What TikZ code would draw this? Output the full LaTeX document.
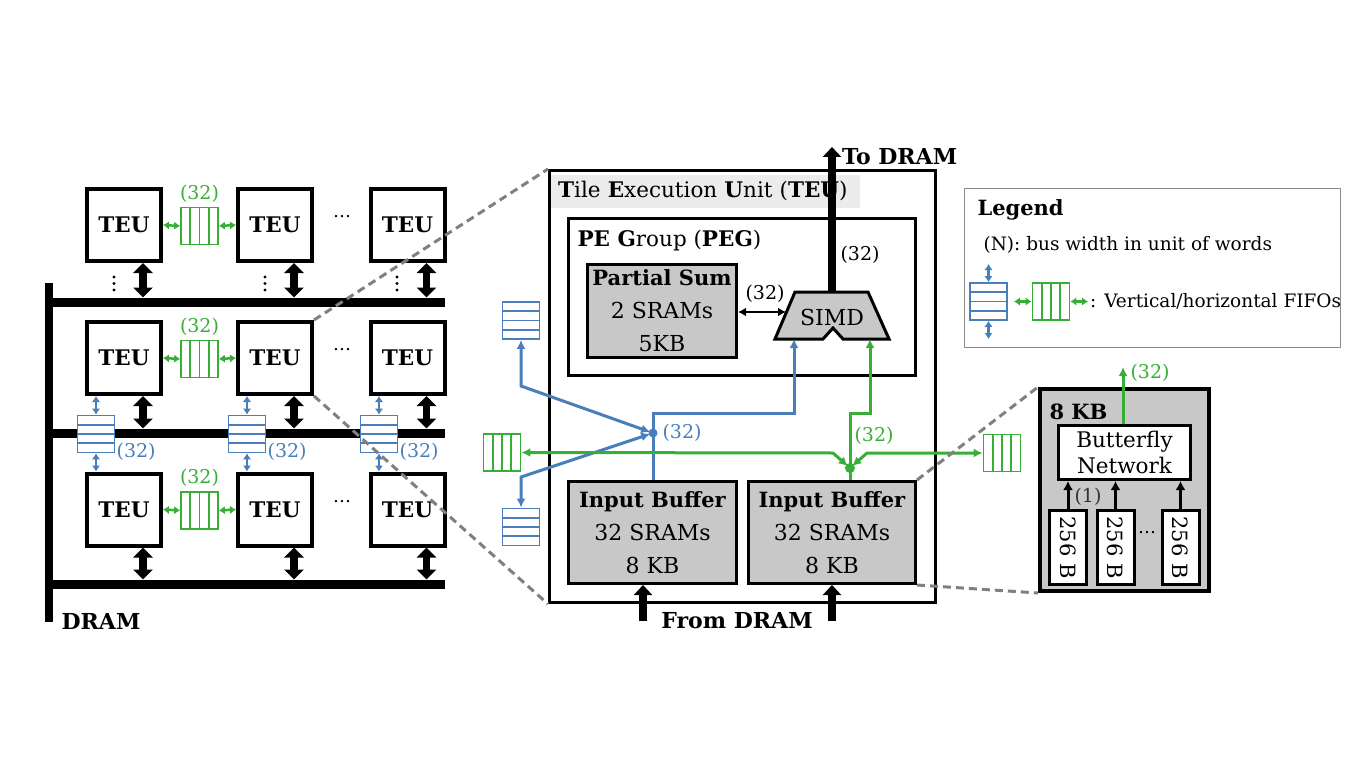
\documentclass[tikz,border=0pt]{standalone}
\usepackage{fontspec}
\setmainfont{DejaVu Serif}
\usetikzlibrary{arrows.meta,calc}
\definecolor{fblue}{RGB}{74,126,187}
\definecolor{fgreen}{RGB}{55,175,55}
\definecolor{boxgray}{RGB}{200,200,200}
\definecolor{dashgray}{RGB}{128,128,128}
\definecolor{titlebg}{RGB}{236,236,236}
\newcommand{\myfs}[1]{\fontsize{#1}{#1}\selectfont}
\begin{document}
\begin{tikzpicture}[x=1pt,y=-1pt,
  teu/.style={draw,line width=4pt,minimum width=74pt,minimum height=72pt,inner sep=0pt,font=\myfs{21.5}\bfseries},
  hfifo/.style={draw=fgreen,fill=white,line width=1.8pt,minimum width=37pt,minimum height=37pt,inner sep=0pt,
    path picture={\foreach \i in {1,2,3}{\draw[fgreen,line width=1.8pt]
      ($(path picture bounding box.north west)!\i/4!(path picture bounding box.north east)$) --
      ($(path picture bounding box.south west)!\i/4!(path picture bounding box.south east)$);}}},
  vfifo/.style={draw=fblue,fill=white,line width=1.8pt,minimum width=37pt,minimum height=37pt,inner sep=0pt,
    path picture={\foreach \i in {1,2,3}{\draw[fblue,line width=1.8pt]
      ($(path picture bounding box.north west)!\i/4!(path picture bounding box.south west)$) --
      ($(path picture bounding box.north east)!\i/4!(path picture bounding box.south east)$);}}},
  gsmall/.style={fgreen,line width=2.5pt,{Latex[length=6pt,width=8.5pt]}-{Latex[length=6pt,width=8.5pt]}},
  bsmall/.style={fblue,line width=2.5pt,{Latex[length=6pt,width=8.5pt]}-{Latex[length=6pt,width=8.5pt]}},
  bigarr/.style={line width=7.5pt,{Triangle[length=10pt,width=19pt]}-{Triangle[length=10pt,width=19pt]}},
  bigup/.style={line width=8pt,-{Triangle[length=10pt,width=18pt]}},
  bus/.style={line width=9pt},
  dashline/.style={dashgray,line width=3pt,dash pattern=on 8pt off 5pt},
  graybox/.style={draw,fill=boxgray,line width=3pt,inner sep=0pt,align=center},
  bline/.style={fblue,line width=3pt},
  gline/.style={fgreen,line width=3pt},
  tip/.style={>={Latex[length=9pt,width=9pt]}},
  glabel/.style={fgreen,font=\myfs{19}},
  blabel/.style={fblue,font=\myfs{19}},
  klabel/.style={font=\myfs{19}},
  txt/.style={font=\myfs{18.5}}
]
\useasboundingbox (0,0) rectangle (1370,770);

% ---------------- left grid ----------------
\foreach \r/\ry in {1/225,2/358,3/509.5}{
  \foreach \c/\cx in {1/124,2/275,3/407.5}{
    \node[teu] (t\r\c) at (\cx,\ry) {TEU};
  }
  \node[hfifo] (h\r) at (199.5,\ry+1) {};
  \draw[gsmall] (t\r1.east) -- (h\r.west);
  \draw[gsmall] (h\r.east) -- (t\r2.west);
  \node[glabel] at ($(h\r.north)+(0,-13)$) {(32)};
  \node[font=\myfs{18}] (dd\r) at (342,\ry-8) {…};
}

% buses
\coordinate (bv1) at (49,283);
\coordinate (bv2) at (49,622);
\draw[line width=8pt] (bv1) -- (bv2);
\foreach \k/\by in {1/302,2/433,3/584}{
  \coordinate (b\k w) at (45,\by);
  \coordinate (b\k e) at (445,\by);
  \draw[bus] (b\k w) -- (b\k e);
}
% big arrows to buses
\foreach \c in {1,2,3}{
  \draw[bigarr,shorten >=4.5pt] ([xshift=19pt]t1\c.south) -- ([xshift=19pt]t1\c.south |- b1w);
  \draw[bigarr,shorten >=4.5pt] ([xshift=19pt]t2\c.south) -- ([xshift=19pt]t2\c.south |- b2w);
  \draw[bigarr,shorten >=4.5pt] ([xshift=19pt]t3\c.south) -- ([xshift=19pt]t3\c.south |- b3w);
}
% vertical dots
\foreach \dx in {114,265,397}{
  \foreach \dy in {277,283.5,290}{\fill (\dx,\dy) circle (1.6);}
}
% vertical FIFOs
\foreach \c/\vx in {1/96,2/247,3/379}{
  \node[vfifo] (v\c) at (\vx,434) {};
  \draw[bsmall] (t2\c.south -| v\c) -- (v\c.north);
  \draw[bsmall] (v\c.south) -- (t3\c.north -| v\c);
  \node[blabel,anchor=west,inner sep=1pt] at ($(v\c.east)+(0,18)$) {(32)};
}
\node[font=\myfs{22}\bfseries] (dram) at (101,621) {DRAM};

% ---------------- TEU detail ----------------
\node[fill=titlebg,anchor=west,minimum height=33pt,text width=294pt,inner xsep=8pt,inner ysep=0pt,align=left,font=\myfs{21.5}] (title) at (550,191.5)
  {\textbf{T}ile \textbf{E}xecution \textbf{U}nit (\textbf{TEU})};
\node[draw,line width=3pt,minimum width=386pt,minimum height=432pt,inner sep=0pt] (bigteu) at (742.5,386.5) {};
\node[draw,line width=3pt,minimum width=347pt,minimum height=157pt,inner sep=0pt] (peg) at (742,297) {};
\node[anchor=west,font=\myfs{21.5}] (pegt) at (574,241) {\textbf{PE G}roup (\textbf{PEG})};

\node[graybox,minimum width=149pt,minimum height=93pt,font=\fontsize{22}{33}\selectfont] (ps) at (662,311)
  {\textbf{\fontsize{21}{33}\selectfont Partial Sum}\\2 SRAMs\\5KB};

% SIMD
\draw[fill=boxgray,line width=3pt,line join=miter] (795,292) -- (868,292) -- (889,339) -- (843,339) -- (833,328) -- (823,339) -- (775,339) -- cycle;
\node[font=\myfs{22}] (simd) at (832,317) {SIMD};
\coordinate (simdT) at (832,292);
\coordinate (simdL) at (786,312);
\coordinate (simdB1) at (794,339);
\coordinate (simdB2) at (870,339);

\draw[line width=2.5pt,{Latex[length=8pt,width=9pt]}-{Latex[length=8pt,width=9pt]}] (ps.east |- simdL) -- (simdL);
\node[klabel] at (765,294) {(32)};

\coordinate (todram) at (832,147);
\draw[bigup] (simdT) -- (todram);
\node[anchor=west,font=\myfs{22}\bfseries,inner sep=0pt] (todramt) at (842,157) {To DRAM};
\node[klabel] at (860,255) {(32)};

% input buffers
\node[graybox,minimum width=168pt,minimum height=102pt,font=\fontsize{22}{33}\selectfont] (ib1) at (652.5,532.5)
  {\textbf{\fontsize{21}{33}\selectfont Input Buffer}\\32 SRAMs\\8 KB};
\node[graybox,minimum width=167pt,minimum height=102pt,font=\fontsize{22}{33}\selectfont] (ib2) at (832,532.5)
  {\textbf{\fontsize{21}{33}\selectfont Input Buffer}\\32 SRAMs\\8 KB};

\coordinate (fd1) at (643,621);
\coordinate (fd2) at (832,621);
\draw[bigup] (fd1) -- (ib1.south -| fd1);
\draw[bigup] (fd2) -- (ib2.south -| fd2);
\node[font=\myfs{22}\bfseries] (fromdram) at (737,621) {From DRAM};

% blue network
\coordinate (bdot) at (653,433);
\coordinate (bturn) at (653,413);
\node[vfifo] (bf1) at (521,320.5) {};
\node[vfifo] (bf2) at (521,527) {};
\draw[bline,tip,->] (ib1.north -| bdot) -- (bturn) -| (simdB1);
\draw[bline,tip,<->,shorten >=3pt] (bf1.south) -- (521,386) -- (bdot);
\draw[bline,tip,<->,shorten >=3pt] (bf2.north) -- (521,477) -- (bdot);
\fill[fblue] (bdot) circle (4.5);
\node[blabel,anchor=west] at (659,433) {(32)};

% green network
\coordinate (gdot) at (850,468);
\node[hfifo] (gf1) at (502,452.5) {};
\node[hfifo] (gf2) at (1002,453) {};
\draw[gline,tip,<->,shorten >=3pt] (gf1.east) -- (833,453) -- (gdot);
\draw[gline,tip,<->,shorten >=3pt] (gf2.west) -- (867,453) -- (gdot);
\draw[gline,tip,->] (ib2.north -| gdot) -- (850,413) -| (simdB2);
\fill[fgreen] (gdot) circle (5);
\node[glabel] at (874,436) {(32)};

% dashed zoom lines
\draw[dashline] (t22.north east) -- (bigteu.north west);
\draw[dashline] (t22.south east) -- (bigteu.south west);

% ---------------- 8 KB block ----------------
\node[draw,fill=boxgray,line width=4pt,minimum width=169pt,minimum height=202pt,inner sep=0pt] (kb) at (1124.5,490) {};
\draw[dashline] (ib2.north east) -- (kb.north west);
\draw[dashline] (ib2.south east) -- (kb.south west);
\node[anchor=west,font=\myfs{21}\bfseries] (kbt) at (1046,412) {8 KB};
\node[draw,fill=white,line width=3pt,minimum width=132pt,minimum height=54pt,inner sep=0pt,align=center,font=\fontsize{21.5}{26}\selectfont] (bfly) at (1124.5,452.5) {Butterfly\\Network};
\foreach \s/\sx in {1/1068,2/1115.5,3/1180.5}{
  \node[draw,fill=white,line width=3pt,minimum width=74pt,minimum height=37pt,inner sep=0pt,rotate=-90,font=\myfs{21}] (s\s) at (\sx,547.5) {256 B};
  \draw[line width=3pt,-{Latex[length=9pt,width=10pt]}] (s\s.west) -- (s\s.west |- bfly.south);
}
\node[klabel,text=black!80] at (1088,497) {(1)};
\node[font=\myfs{18}] (sd) at (1147,533) {…};
\coordinate (bfout) at (1123,367);
\draw[gline,tip,->] (bfly.north -| bfout) -- (bfout);
\node[glabel,anchor=west] at (1127,373) {(32)};

% ---------------- legend ----------------
\node[draw=black!45,line width=1.2pt,minimum width=376pt,minimum height=159pt,inner sep=0pt] (leg) at (1152.5,268) {};
\node[anchor=west,font=\myfs{21}\bfseries] (legt) at (974,210) {Legend};
\node[anchor=west,txt] (legn) at (980,245) {(N): bus width in unit of words};
\node[vfifo] (lvf) at (988.5,301.5) {};
\node[hfifo] (lhf) at (1051,301.5) {};
\coordinate (la1) at (988.5,264);
\coordinate (la2) at (988.5,339);
\coordinate (la3) at (1014,301.5);
\coordinate (la4) at (1088,301.5);
\draw[bsmall] (la1) -- (lvf.north);
\draw[bsmall] (lvf.south) -- (la2);
\draw[gsmall] (la3) -- (lhf.west);
\draw[gsmall] (lhf.east) -- (la4);
\node[anchor=west,txt,inner sep=0pt] (legf) at (1090,301) {: Vertical/horizontal FIFOs};
\end{tikzpicture}
\end{document}
